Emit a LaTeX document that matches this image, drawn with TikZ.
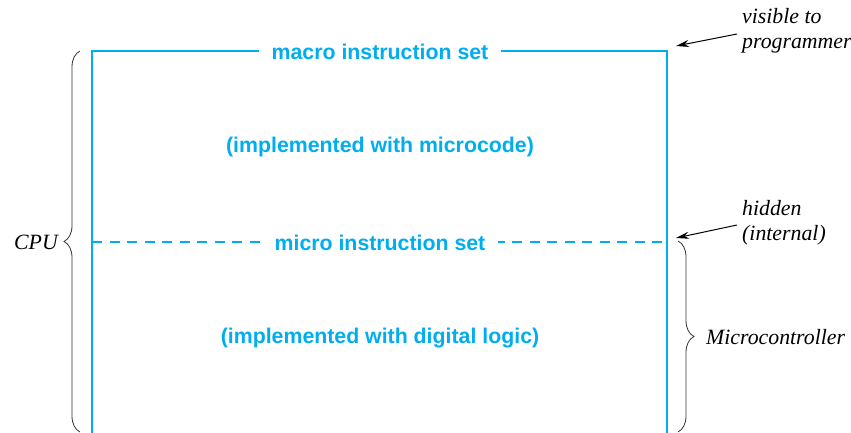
\documentclass[tikz,border=0pt]{standalone}
\usepackage{fontspec}
\setmainfont{Liberation Serif}
\newfontfamily\bluefont{Liberation Sans}
\usetikzlibrary{arrows.meta,decorations.pathreplacing}
\definecolor{cyanline}{RGB}{0,174,239}
\tikzset{
  boxline/.style={draw=cyanline,line width=2.8pt},
  dashline/.style={draw=cyanline,line width=1.4pt,dash pattern=on 10pt off 7.5pt},
  bluetext/.style={text=cyanline,font=\bluefont\bfseries\fontsize{21.3}{24}\selectfont,inner sep=0pt},
  gaptext/.style={bluetext,fill=white,inner xsep=13pt,inner ysep=2pt},
  itext/.style={font=\itshape\fontsize{21.8}{24.5}\selectfont,inner sep=0pt,align=left},
  bracestyle/.style={draw=black!80,line width=0.8pt,decorate,decoration={brace,amplitude=16pt}},
  pointer/.style={draw=black,line width=1pt,-{Stealth[length=13pt,width=7pt]}}
}
\begin{document}
\begin{tikzpicture}[x=1pt,y=-1pt]
\useasboundingbox (0,0) rectangle (851,433);
% box
\coordinate (bl) at (92,434);
\coordinate (tl) at (92,51);
\coordinate (tr) at (667,51);
\coordinate (br) at (667,434);
\draw[boxline] (bl) -- (tl) -- (tr) -- (br);
\coordinate (dl) at (92,242);
\coordinate (dr) at (667,242);
\draw[dashline] (dl) -- (dr);
\node[gaptext] (macro) at (380,52) {macro instruction set};
\node[gaptext] (micro) at (380,243) {micro instruction set};
\node[bluetext] (impl1) at (380,146.5) {(implemented with microcode)};
\node[bluetext] (impl2) at (380,338.5) {(implemented with digital logic)};
% braces
\coordinate (lb1) at (80,432);
\coordinate (lb2) at (80,51);
\draw[bracestyle] (lb1) -- (lb2);
\node[itext,anchor=east] (cpu) at (58,242) {CPU};
\coordinate (rb1) at (678,241);
\coordinate (rb2) at (678,432);
\draw[bracestyle] (rb1) -- (rb2);
\node[itext,anchor=west] (mc) at (706,337) {Microcontroller};
% pointers
\node[itext,anchor=west] (vis) at (742,31) {visible to\\programmer};
\coordinate (vstart) at (737,34);
\coordinate (vend) at (676,46);
\draw[pointer] (vstart) -- (vend);
\node[itext,anchor=west] (hid) at (742,223) {hidden\\(internal)};
\coordinate (hstart) at (737,225);
\coordinate (hend) at (676,238);
\draw[pointer] (hstart) -- (hend);
\end{tikzpicture}
\end{document}
